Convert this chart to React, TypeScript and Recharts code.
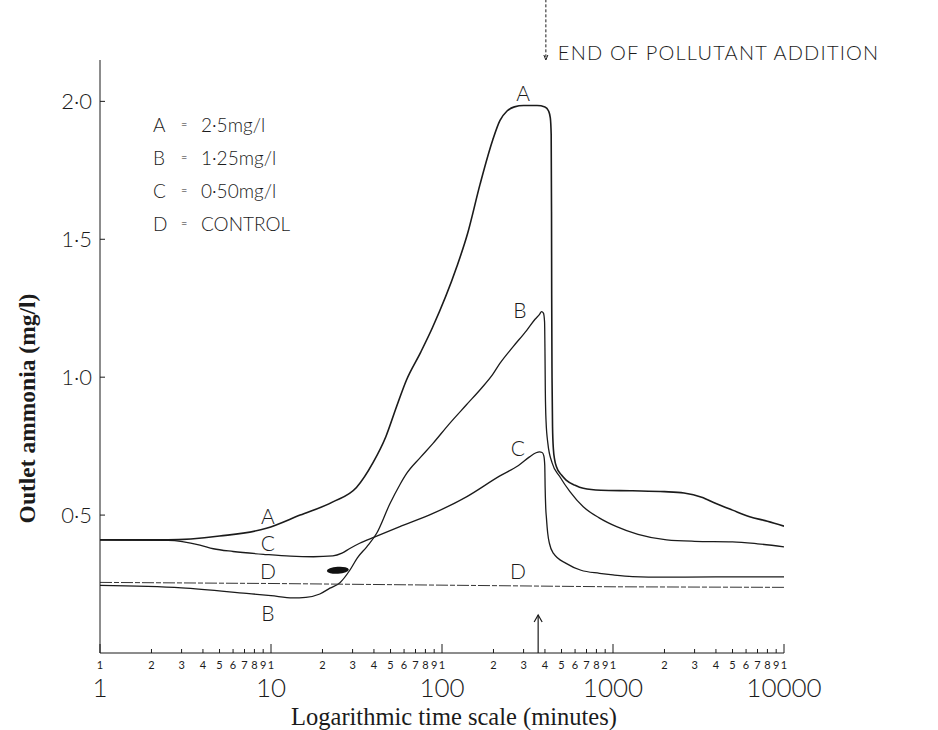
import { LineChart, Line, XAxis, YAxis, ReferenceLine, ReferenceDot, Legend } from 'recharts'

// time (minutes) and outlet ammonia (mg/l)
const aX = [1, 2.5, 5, 9.4, 14.8, 23, 31.6, 39.5, 47, 54, 62, 75, 88, 122, 141, 167, 198, 218, 240, 265, 300, 360, 400, 420, 430, 435, 437, 438, 440, 443, 448, 456, 467, 500, 532, 600, 670, 850, 1300, 2000, 2600, 3300, 4000, 5000, 6300, 8000, 10000]
const aY = [0.41, 0.41, 0.424, 0.452, 0.5, 0.548, 0.6, 0.69, 0.785, 0.89, 0.99, 1.09, 1.18, 1.4, 1.52, 1.7, 1.86, 1.93, 1.965, 1.98, 1.985, 1.985, 1.98, 1.965, 1.94, 1.88, 1.6, 1.3, 1.0, 0.82, 0.74, 0.7, 0.675, 0.645, 0.627, 0.608, 0.597, 0.59, 0.588, 0.585, 0.58, 0.565, 0.542, 0.518, 0.494, 0.478, 0.46]

const bX = [1, 3, 7.2, 10, 13.4, 16, 19.3, 22.1, 25.3, 28.9, 32, 36.3, 41.5, 49.5, 56.7, 62, 75, 88.6, 110, 139, 170, 198, 218, 260, 313, 350, 372, 382, 392, 398, 400, 402, 406, 416, 440, 488, 560, 670, 830, 1050, 1400, 2060, 3000, 5000, 7000, 10000]
const bY = [0.245, 0.236, 0.216, 0.208, 0.2, 0.202, 0.214, 0.235, 0.255, 0.3, 0.345, 0.385, 0.434, 0.54, 0.61, 0.65, 0.71, 0.76, 0.83, 0.9, 0.96, 1.01, 1.05, 1.11, 1.17, 1.21, 1.228, 1.238, 1.232, 1.2, 1.1, 0.95, 0.84, 0.76, 0.69, 0.64, 0.585, 0.53, 0.49, 0.458, 0.43, 0.41, 0.405, 0.403, 0.396, 0.385]

const cX = [1, 2.5, 3.84, 4.6, 6, 9.4, 13, 17.7, 23, 26, 28.9, 33, 40.5, 56.7, 88.6, 139, 218, 280, 325, 355, 372, 385, 394, 399, 401, 404, 408, 415, 425, 450, 532, 650, 834, 1000, 1300, 2000, 4000, 10000]
const cY = [0.41, 0.408, 0.391, 0.378, 0.368, 0.357, 0.351, 0.349, 0.352, 0.362, 0.379, 0.398, 0.421, 0.458, 0.506, 0.566, 0.642, 0.68, 0.711, 0.726, 0.729, 0.727, 0.715, 0.68, 0.6, 0.53, 0.49, 0.435, 0.397, 0.36, 0.325, 0.3, 0.289, 0.283, 0.277, 0.275, 0.276, 0.276]

const dX = [1, 10, 100, 1000, 10000]
const dY = [0.256, 0.252, 0.246, 0.24, 0.238]

const seriesKeys = ['A', 'B', 'C', 'D']
const seriesDesc = ['2·5mg/l', '1·25mg/l', '0·50mg/l', 'CONTROL']

// curve letters written beside the lines
const labelText = ['A', 'C', 'D', 'B', 'A', 'B', 'C', 'D']
const labelX = [9.6, 9.6, 9.6, 9.6, 298, 285, 278, 278]
const labelY = [0.494, 0.398, 0.295, 0.144, 2.03, 1.24, 0.742, 0.295]

const xTicks = [
  1, 2, 3, 4, 5, 6, 7, 8, 9,
  10, 20, 30, 40, 50, 60, 70, 80, 90,
  100, 200, 300, 400, 500, 600, 700, 800, 900,
  1000, 2000, 3000, 4000, 5000, 6000, 7000, 8000, 9000,
  10000,
]
const majorTicks = [1, 10, 100, 1000, 10000]
const yTicks = [0.5, 1, 1.5, 2]

const endOfAddition = 405
const arrowTime = 365

const INK = '#1b1b1b'
const SANS = 'Lato, "Open Sans", "DejaVu Sans", sans-serif'
const SERIF = '"Liberation Serif", "DejaVu Serif", serif'

const pts = (xs: number[], ys: number[]) => xs.map((t, i) => ({ t, v: ys[i] }))
const seriesData = [pts(aX, aY), pts(bX, bY), pts(cX, cY), pts(dX, dY)]

function XTick(props: any) {
  const { x, y, payload } = props
  const v = payload.value as number
  const major = majorTicks.includes(v)
  return (
    <g>
      <line x1={x} x2={x} y1={y} y2={y - (major ? 9 : 4)} stroke={INK} strokeWidth={1} />
      <text x={x} y={y + 16} fontSize={11} fontFamily={SANS} fill={INK} textAnchor="middle">
        {String(v)[0]}
      </text>
      {major && (
        <text x={x} y={y + 44} fontSize={26} fontFamily={SANS} fill={INK} textAnchor="middle" fontWeight={300}>
          {v}
        </text>
      )}
    </g>
  )
}

function YTick(props: any) {
  const { x, y, payload } = props
  const v = payload.value as number
  return (
    <g>
      <line x1={x} x2={x + 5} y1={y} y2={y} stroke={INK} strokeWidth={1} />
      <text x={x - 8} y={y + 8} fontSize={22} fontFamily={SANS} fill={INK} textAnchor="end" fontWeight={300}>
        {v.toFixed(1).replace('.', '·')}
      </text>
    </g>
  )
}

function TopNote(p: any) {
  const { x1, y1, x2, y2 } = p
  return (
    <g>
      <line x1={x1} y1={y1} x2={x2} y2={y2 - 3} stroke={INK} strokeWidth={1} strokeDasharray="3 2" />
      <path d={`M${x2 - 2},${y2 - 5} L${x2},${y2} L${x2 + 2},${y2 - 5}`} fill="none" stroke={INK} strokeWidth={1} />
      <text x={x2 + 12} y={y2} fontSize={20} fontFamily={SANS} fill={INK} letterSpacing={1.2} fontWeight={300}>
        END OF  POLLUTANT ADDITION
      </text>
    </g>
  )
}

function UpArrow(p: any) {
  const { x1, y1, x2, y2 } = p
  return (
    <g>
      <line x1={x1} y1={y1} x2={x2} y2={y2} stroke={INK} strokeWidth={1.2} />
      <path d={`M${x2 - 4},${y2 + 7} L${x2},${y2} L${x2 + 4},${y2 + 7}`} fill="none" stroke={INK} strokeWidth={1.2} />
    </g>
  )
}

function Blot(p: any) {
  return <ellipse cx={p.cx} cy={p.cy} rx={11} ry={3.5} fill="#111" transform={`rotate(-4 ${p.cx} ${p.cy})`} />
}

function KeyBox() {
  return (
    <div style={{ fontFamily: SANS, fontSize: 19, color: INK, lineHeight: '33px', fontWeight: 300 }}>
      {seriesKeys.map((k, i) => (
        <div key={k} style={{ display: 'flex', whiteSpace: 'nowrap' }}>
          <span style={{ width: 28 }}>{k}</span>
          <span style={{ width: 20, fontSize: 11 }}>=</span>
          <span>{seriesDesc[i]}</span>
        </div>
      ))}
    </div>
  )
}

export default function App() {
  return (
    <div style={{ position: 'absolute', left: 0, top: 0, width: 938, height: 730, background: '#fff' }}>
      <LineChart width={938} height={730} margin={{ top: 60, right: 154, bottom: 47, left: 60 }}>
        <XAxis
          type="number"
          dataKey="t"
          scale="log"
          domain={[1, 10000]}
          ticks={xTicks}
          interval={0}
          allowDataOverflow
          height={30}
          tickSize={0}
          tickMargin={0}
          tick={<XTick />}
          stroke={INK}
          label={(p: any) => (
            <text
              x={p.viewBox.x + p.viewBox.width / 2 + 12}
              y={p.viewBox.y + 72}
              fontSize={24.5}
              fontFamily={SERIF}
              fill={INK}
              textAnchor="middle"
            >
              Logarithmic time scale (minutes)
            </text>
          )}
        />
        <YAxis
          type="number"
          domain={[0, 2.15]}
          ticks={yTicks}
          interval={0}
          allowDataOverflow
          width={40}
          tickSize={0}
          tickMargin={0}
          tick={<YTick />}
          stroke={INK}
          label={(p: any) => {
            const cx = 27
            const cy = p.viewBox.y + p.viewBox.height / 2 + 52
            return (
              <text
                x={cx}
                y={cy}
                fontSize={23.5}
                fontWeight="bold"
                fontFamily={SERIF}
                fill={INK}
                textAnchor="middle"
                dominantBaseline="central"
                transform={`rotate(-90 ${cx} ${cy})`}
              >
                Outlet ammonia (mg/l)
              </text>
            )
          }}
        />
        <Legend
          layout="vertical"
          align="center"
          verticalAlign="middle"
          wrapperStyle={{ left: 153, top: 108, width: 'auto' }}
          content={<KeyBox />}
        />
        <Line name={seriesKeys[0]} data={seriesData[0]} dataKey="v" type="monotone" stroke={INK} strokeWidth={1.6} dot={false} isAnimationActive={false} />
        <Line name={seriesKeys[1]} data={seriesData[1]} dataKey="v" type="monotone" stroke={INK} strokeWidth={1.3} dot={false} isAnimationActive={false} />
        <Line name={seriesKeys[2]} data={seriesData[2]} dataKey="v" type="monotone" stroke={INK} strokeWidth={1.3} dot={false} isAnimationActive={false} />
        <Line name={seriesKeys[3]} data={seriesData[3]} dataKey="v" type="linear" stroke="#333" strokeWidth={1} strokeDasharray="12 2 5 2" dot={false} isAnimationActive={false} />
        {labelText.map((s, i) => (
          <ReferenceDot
            key={i}
            x={labelX[i]}
            y={labelY[i]}
            r={0}
            fill="none"
            stroke="none"
            label={{ value: s, fontSize: 21, fontFamily: SANS, fill: INK, fontWeight: 300 }}
          />
        ))}
        <ReferenceDot x={24.6} y={0.3} r={1} shape={<Blot />} />
        <ReferenceLine
          segment={[{ x: endOfAddition, y: 2.37 }, { x: endOfAddition, y: 2.15 }]}
          ifOverflow="visible"
          shape={<TopNote />}
        />
        <ReferenceLine
          segment={[{ x: arrowTime, y: 0 }, { x: arrowTime, y: 0.138 }]}
          ifOverflow="visible"
          shape={<UpArrow />}
        />
      </LineChart>
    </div>
  )
}
